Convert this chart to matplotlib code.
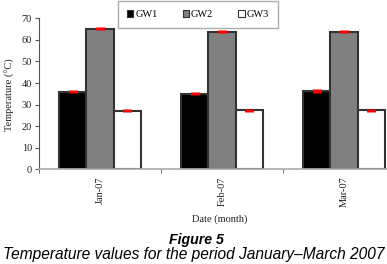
import matplotlib
matplotlib.use("Agg")
import matplotlib.pyplot as plt
import numpy as np
from matplotlib.patches import Patch

months = ["Jan-07", "Feb-07", "Mar-07"]
series = ["GW1", "GW2", "GW3"]
gw1 = [36.0, 35.0, 36.3]
gw2 = [65.2, 63.7, 63.7]
gw3 = [27.2, 27.3, 27.3]
err = [0.7, 0.7, 0.7]
colors = ["#000000", "#808080", "#ffffff"]

W, H = 387, 264
fig = plt.figure(figsize=(W / 100, H / 100), dpi=100)
x0, x1 = 39, 405
y0, y1 = 169.3, 18.3
ax = fig.add_axes([x0 / W, 1 - y0 / H, (x1 - x0) / W, (y0 - y1) / H])

serif = "Liberation Serif"
x = np.arange(len(months))
bw = 0.225
for i, (vals, c) in enumerate(zip([gw1, gw2, gw3], colors)):
    pos = x + (i - 1) * bw
    ax.bar(pos, vals, width=bw, color=c, edgecolor="#333333", linewidth=1.5, zorder=2)
    ax.errorbar(pos, vals, yerr=err, fmt="none", ecolor="red", elinewidth=6.5, capsize=0, zorder=3)

ax.set_xlim(-0.5, 2.5)
ax.set_ylim(0, 70)
ax.set_yticks(range(0, 71, 10))
ax.set_yticklabels([str(v) for v in range(0, 71, 10)], fontfamily=serif, fontsize=7.5, color="#222222")
ax.set_xticks(x)
ax.set_xticklabels(months, rotation=90, fontfamily=serif, fontsize=7.5, color="#222222")
ax.set_xticks([-0.5, 0.5, 1.5, 2.5], minor=True)
ax.tick_params(axis="x", which="major", length=0, pad=5)
ax.tick_params(axis="x", which="minor", length=3, color="#555555", direction="out")
ax.tick_params(axis="y", length=3, color="#555555", direction="out", pad=2)
for s in ["top", "right"]:
    ax.spines[s].set_visible(False)
ax.spines["left"].set_color("#555555")
ax.spines["bottom"].set_color("#aaaaaa")
ax.spines["left"].set_linewidth(0.8)
ax.spines["bottom"].set_linewidth(1.2)

fig.text(10 / W, 1 - 95 / H, "Temperature (\u00b0C)", rotation=90, ha="center", va="center",
         fontfamily=serif, fontsize=7.5, color="#222222")
fig.text(220 / W, 1 - 219 / H, "Date (month)", ha="center", va="center",
         fontfamily=serif, fontsize=7.5, color="#222222")
fig.text(196 / W, 1 - 240 / H, "Figure 5", ha="center", va="center",
         fontfamily="Liberation Sans", fontsize=10.2, fontweight="bold", fontstyle="italic")
fig.text(194 / W, 1 - 254 / H, "Temperature values for the period January\u2013March 2007", ha="center",
         va="center", fontfamily="Liberation Sans", fontsize=11.2, fontstyle="italic")

handles = [Patch(facecolor=c, edgecolor="#333333", linewidth=0.8) for c in colors]
leg = fig.legend(handles, series, loc="center", bbox_to_anchor=(198 / W, 1 - 14.5 / H), ncol=3,
                 frameon=True, fancybox=False, prop={"family": serif, "size": 7.5},
                 handlelength=0.6, handleheight=0.6, handletextpad=0.2, columnspacing=2.4,
                 borderpad=0.85, borderaxespad=0)
leg.get_frame().set_edgecolor("#999999")
leg.get_frame().set_linewidth(1.0)

fig.savefig("out.png", dpi=100)
